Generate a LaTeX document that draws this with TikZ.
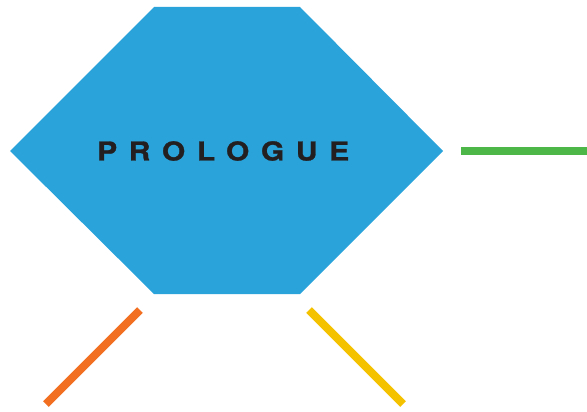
\documentclass[tikz,border=0pt]{standalone}
\usepackage{fontspec}
\usepackage{xcolor}
\usetikzlibrary{positioning}
\newfontfamily\spacedfont[Extension=.otf, UprightFont=texgyreheros-bold, FakeStretch=1.15, FakeBold=1.2, LetterSpace=45]{texgyreheros-bold}

\definecolor{hexblue}{HTML}{2AA3DB}
\definecolor{titleink}{HTML}{231F20}
\definecolor{branchgreen}{HTML}{4DB748}
\definecolor{branchorange}{HTML}{F26F21}
\definecolor{branchyellow}{HTML}{F5C200}

\begin{document}
\begin{tikzpicture}[
  x=1pt, y=-1pt,
  hexfill/.style={fill=hexblue, draw=none},
  title/.style={font=\spacedfont\fontsize{26}{30}\selectfont, text=titleink, inner sep=0pt, anchor=west},
  branch/.style={line width=8pt, line cap=butt},
]
\useasboundingbox (0,0) rectangle (587,412);

% hexagon
\coordinate (hexnw) at (154,7);
\coordinate (hexne) at (300,7);
\coordinate (hexe) at (443,151);
\coordinate (hexse) at (300,294);
\coordinate (hexsw) at (154,294);
\coordinate (hexw) at (10,151);
\fill[hexfill] (hexnw) -- (hexne) -- (hexe) -- (hexse) -- (hexsw) -- (hexw) -- cycle;

\node[title] (prologue) at (97,151) {PROLOGUE};

% branches
\coordinate (greenstart) at (461,151);
\coordinate (greenend) at (587,151);
\coordinate (orangestart) at (140,310);
\coordinate (orangeend) at (46,404);
\coordinate (yellowstart) at (309,310);
\coordinate (yellowend) at (403,404);

\draw[branch, branchgreen] (greenstart) -- (greenend);
\draw[branch, branchorange] (orangestart) -- (orangeend);
\draw[branch, branchyellow] (yellowstart) -- (yellowend);

\end{tikzpicture}
\end{document}
